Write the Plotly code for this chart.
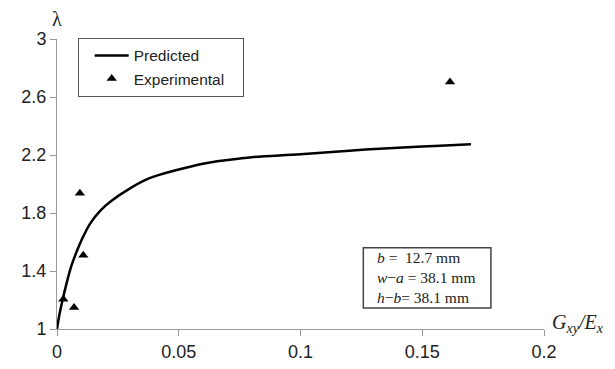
import plotly.graph_objects as go

# Predicted curve
pred_x = [0, 0.001, 0.002, 0.004, 0.006, 0.008, 0.010, 0.0136, 0.018, 0.022, 0.030, 0.038,
          0.050, 0.060, 0.070, 0.080, 0.100, 0.120, 0.140, 0.155, 0.170]
pred_y = [1.0, 1.10, 1.18, 1.32, 1.44, 1.53, 1.61, 1.727, 1.82, 1.88, 1.97, 2.04,
          2.10, 2.14, 2.165, 2.185, 2.205, 2.23, 2.25, 2.262, 2.274]

# Experimental points
exp_x = [0.0026, 0.007, 0.0094, 0.0108, 0.1614]
exp_y = [1.205, 1.148, 1.936, 1.508, 2.703]

x_ticks = [0, 0.05, 0.1, 0.15, 0.2]
y_ticks = [1, 1.4, 1.8, 2.2, 2.6, 3]

fig = go.Figure()
fig.add_trace(go.Scatter(x=pred_x, y=pred_y, mode="lines", name="Predicted",
                         line=dict(color="black", width=2.5, shape="spline")))
fig.add_trace(go.Scatter(x=exp_x, y=exp_y, mode="markers", name="Experimental\u00a0\u00a0\u00a0",
                         marker=dict(symbol="triangle-up", size=9, color="black")))

tick_font = dict(family="Liberation Sans, Arial", size=18, color="#222")
serif = "Liberation Serif, Times New Roman"
fig.update_layout(
    width=615, height=369,
    margin=dict(l=49, r=79, t=31, b=48, autoexpand=False),
    plot_bgcolor="white", paper_bgcolor="white",
    showlegend=True,
    legend=dict(x=0.0425, y=1.004, xanchor="left", yanchor="top",
                bordercolor="#555", borderwidth=1, bgcolor="white",
                font=dict(family="Liberation Sans, Arial", size=15.5, color="#222"),
                tracegroupgap=0, itemwidth=34, indentation=11),
    xaxis=dict(range=[0, 0.2], tickvals=x_ticks, ticktext=["0", "0.05", "0.1", "0.15", "0.2"],
               showline=True, linecolor="#999", linewidth=1, ticks="outside", ticklen=6,
               tickcolor="#999", showgrid=False, zeroline=False, tickfont=tick_font),
    yaxis=dict(range=[1, 3], tickvals=y_ticks, ticktext=["1", "1.4", "1.8", "2.2", "2.6", "3"],
               showline=True, linecolor="#999", linewidth=1, ticks="outside", ticklen=6,
               tickcolor="#999", showgrid=False, zeroline=False, tickfont=tick_font),
    shapes=[dict(type="rect", xref="paper", yref="paper", x0=0.629, x1=0.891, y0=0.072, y1=0.28,
                 line=dict(color="#444", width=1.5), fillcolor="white", layer="above")],
    annotations=[
        dict(text="λ", xref="paper", yref="paper", x=0, y=1.07, xanchor="center",
             yanchor="middle", showarrow=False,
             font=dict(family=serif, size=20, color="#222")),
        dict(text="<i>G<sub>xy</sub>/E<sub>x</sub></i>", xref="paper", yref="paper", x=1.012, y=0.02,
             xanchor="left", yanchor="middle", showarrow=False,
             font=dict(family=serif, size=20, color="#222")),
        dict(text="<i>b</i> =\u00a0\u00a012.7 mm<br><i>w</i>−<i>a</i> = 38.1 mm<br><i>h</i>−<i>b</i>= 38.1 mm",
             xref="paper", yref="paper", x=0.656, y=0.176, xanchor="left", yanchor="middle",
             showarrow=False, align="left", borderpad=0,
             font=dict(family=serif, size=15.5, color="#222")),
    ],
)

fig.write_html("out.html")
